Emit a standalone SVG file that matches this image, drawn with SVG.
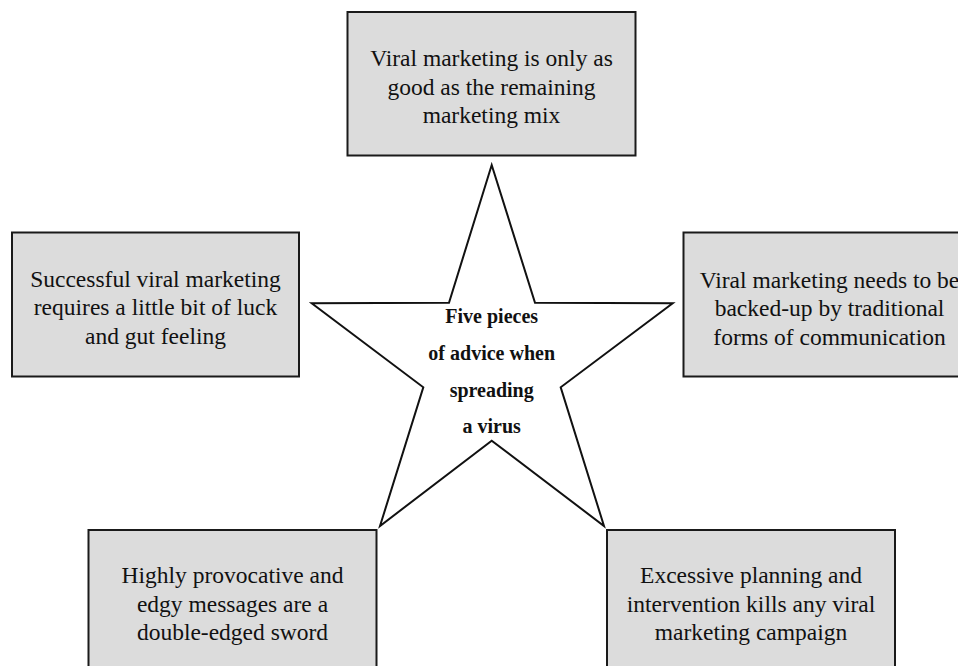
<svg xmlns="http://www.w3.org/2000/svg" width="958" height="666" viewBox="0 0 958 666">
  <style>
    .box { fill: #dcdcdc; stroke: #1a1a1a; stroke-width: 2; }
    .txt { font-size: 23.5px; fill: #111; text-anchor: middle; }
    .star { fill: #ffffff; stroke: #111; stroke-width: 2; stroke-linejoin: miter; }
    .stxt { font-size: 20px; font-weight: bold; fill: #111; text-anchor: middle; }
  </style>
  <rect width="958" height="666" fill="#ffffff"/>

  <g font-family="Liberation Serif, Tinos, Times New Roman, DejaVu Serif, serif">
  <g id="center-star">
    <polygon class="star" points="491.7,165 535,302.7 672.7,303.3 560.7,387.3 604,526 491.7,440.7 380,526 423.3,387.3 311.7,303.3 449,302.7"/>
    <text class="stxt" x="491.7" y="323">Five pieces</text>
    <text class="stxt" x="491.7" y="360">of advice when</text>
    <text class="stxt" x="491.7" y="397">spreading</text>
    <text class="stxt" x="491.7" y="433">a virus</text>
  </g>

  <g id="advice-top">
    <rect class="box" x="347.5" y="12" width="288" height="143.5"/>
    <text class="txt" x="491.5" y="66">Viral marketing is only as</text>
    <text class="txt" x="491.5" y="94.5">good as the remaining</text>
    <text class="txt" x="491.5" y="122.5">marketing mix</text>
  </g>

  <g id="advice-left">
    <rect class="box" x="12" y="232.5" width="287" height="144"/>
    <text class="txt" x="155.5" y="286.5">Successful viral marketing</text>
    <text class="txt" x="155.5" y="315">requires a little bit of luck</text>
    <text class="txt" x="155.5" y="343.5">and gut feeling</text>
  </g>

  <g id="advice-right">
    <rect class="box" x="683.5" y="232.5" width="292" height="144"/>
    <text class="txt" x="829.5" y="287.5">Viral marketing needs to be</text>
    <text class="txt" x="829.5" y="316">backed-up by traditional</text>
    <text class="txt" x="829.5" y="344.5">forms of communication</text>
  </g>

  <g id="advice-bottom-left">
    <rect class="box" x="88.5" y="530" width="288" height="150"/>
    <text class="txt" x="232.5" y="583">Highly provocative and</text>
    <text class="txt" x="232.5" y="611.5">edgy messages are a</text>
    <text class="txt" x="232.5" y="640">double-edged sword</text>
  </g>

  <g id="advice-bottom-right">
    <rect class="box" x="607" y="530" width="288" height="150"/>
    <text class="txt" x="751" y="583">Excessive planning and</text>
    <text class="txt" x="751" y="611.5">intervention kills any viral</text>
    <text class="txt" x="751" y="640">marketing campaign</text>
  </g>
  </g>

  <g id="connectors"></g>
</svg>
